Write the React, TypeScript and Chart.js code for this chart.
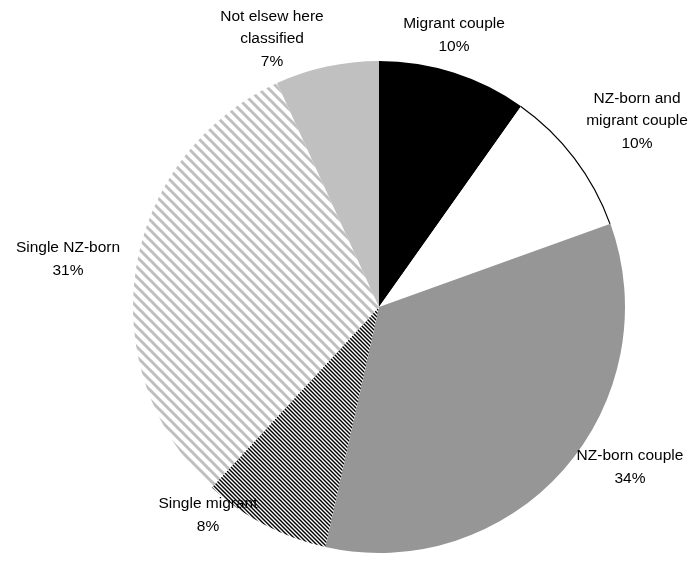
import React, { useEffect, useRef } from "react";
import { Chart, registerables } from "chart.js";

Chart.register(...registerables);

const categories: string[][] = [
  ["Migrant couple"],
  ["NZ-born and", "migrant couple"],
  ["NZ-born couple"],
  ["Single migrant"],
  ["Single NZ-born"],
  ["Not elsew here", "classified"],
];
const shares: number[] = [9.8, 9.7, 34.0, 8.4, 31.3, 6.8];
const percentLabels: string[] = ["10%", "10%", "34%", "8%", "31%", "7%"];

// label block centres relative to pie centre (layout only)
const labelLayout: [number, number][] = [
  [75, -272],
  [258, -186],
  [251, 160],
  [-171, 208],
  [-311, -48],
  [-107, -268],
];

function stripePattern(size: number, lineWidth: number, fg: string, bg: string): CanvasPattern | string {
  const c = document.createElement("canvas");
  c.width = size;
  c.height = size;
  const g = c.getContext("2d");
  if (!g) return fg;
  g.fillStyle = bg;
  g.fillRect(0, 0, size, size);
  g.strokeStyle = fg;
  g.lineWidth = lineWidth;
  g.lineCap = "square";
  for (let k = -size; k <= size; k += size) {
    g.beginPath();
    g.moveTo(k - 1, -1);
    g.lineTo(k + size + 1, size + 1);
    g.stroke();
  }
  const p = g.createPattern(c, "repeat");
  return p || fg;
}

export default function App() {
  const ref = useRef<HTMLCanvasElement | null>(null);

  useEffect(() => {
    document.body.style.margin = "0";
    const canvas = ref.current;
    if (!canvas) return;
    const dense = stripePattern(4, 1.45, "#000000", "#ffffff");
    const light = stripePattern(10, 3, "#bfbfbf", "#ffffff");
    const colors = ["#000000", "#ffffff", "#969696", dense, light, "#c0c0c0"];

    const labelPlugin = {
      id: "pieLabels",
      afterDatasetsDraw(chart: any) {
        const ctx = chart.ctx;
        const meta = chart.getDatasetMeta(0);
        const arcs = meta.data;
        if (!arcs.length) return;
        const cx = arcs[0].x;
        const cy = arcs[0].y;
        // outer outline of the white slice
        const w = arcs[1];
        ctx.save();
        ctx.strokeStyle = "#000";
        ctx.lineWidth = 1.2;
        ctx.beginPath();
        ctx.arc(cx, cy, w.outerRadius - 0.5, w.startAngle, w.endAngle);
        ctx.stroke();
        ctx.restore();

        ctx.save();
        ctx.font = "15.5px 'Liberation Sans', Arial, sans-serif";
        ctx.fillStyle = "#000";
        ctx.textAlign = "center";
        ctx.textBaseline = "middle";
        const lh = 22.5;
        categories.forEach((lines, i) => {
          const all = [...lines, percentLabels[i]];
          const [dx, dy] = labelLayout[i];
          const x = cx + dx;
          const top = cy + dy - ((all.length - 1) * lh) / 2;
          all.forEach((t, j) => ctx.fillText(t, x, top + j * lh));
        });
        ctx.restore();
      },
    };

    const chart = new Chart(canvas, {
      type: "pie",
      data: {
        labels: categories.map((l) => l.join(" ")),
        datasets: [
          {
            data: shares,
            backgroundColor: colors as any,
            borderWidth: 0,
          },
        ],
      },
      options: {
        responsive: false,
        animation: false,
        layout: { padding: { top: 61, bottom: 10, left: 133, right: 69 } },
        plugins: {
          legend: { display: false },
          tooltip: { enabled: false },
        },
      },
      plugins: [labelPlugin],
    });
    return () => chart.destroy();
  }, []);

  return (
    <div style={{ width: 694, height: 563, background: "#fff" }}>
      <canvas ref={ref} width={694} height={563} />
    </div>
  );
}
